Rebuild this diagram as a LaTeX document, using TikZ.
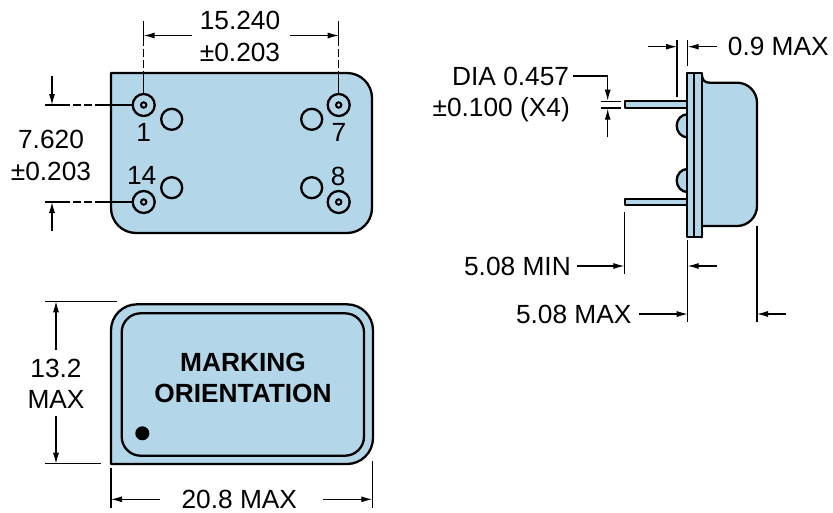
\documentclass[tikz,border=0pt]{standalone}
\usepackage{fontspec}
\setmainfont{Liberation Sans}
\usetikzlibrary{arrows.meta}
\definecolor{bodyblue}{HTML}{B3D6E8}
\tikzset{
  body/.style={draw,fill=bodyblue,line width=2.3pt,line join=round},
  pin/.style={circle,draw,line width=2.3pt,minimum size=22pt,inner sep=0pt},
  bump/.style={circle,draw,line width=2.3pt,minimum size=21pt,inner sep=0pt},
  dimarrow/.style={draw,line width=1.1pt,-{Latex[length=11pt,width=6pt]}},
  dimline/.style={draw,line width=1.1pt},
  centerline/.style={draw,line width=1.1pt,dash pattern=on 25pt off 3pt on 8pt off 3pt on 8pt off 3pt on 40pt}
}
\begin{document}
\begin{tikzpicture}[x=1pt,y=-1pt]
      \useasboundingbox (0,0) rectangle (833,512);

      % pin side
      \draw[body] (111,73) [rounded corners=25pt] -- (372,73) -- (372,233) -- (111,233) [sharp corners] -- cycle;

      \begin{scope}[every node/.style={pin}]
        \node (1)  at (143.7,105) {};
        \node (7)  at (338.7,105) {};
        \node (14) at (143.7,202) {};
        \node (8)  at (338.7,202) {};
      \end{scope}
      \begin{scope}[every node/.style={circle,draw,line width=2pt,minimum size=5.4pt,inner sep=0pt}]
        \node (c1)  at (143.7,105) {};
        \node (c7)  at (338.7,105) {};
        \node (c14) at (143.7,202) {};
        \node (c8)  at (338.7,202) {};
      \end{scope}
      \begin{scope}[every node/.style={bump}]
        \node (b1)  at (171.7,119.3) {};
        \node (b7)  at (311.7,119.3) {};
        \node (b14) at (171.7,187.7) {};
        \node (b8)  at (311.7,187.7) {};
      \end{scope}

      % bottom view
      \draw[body] (111,464) [rounded corners=26pt] -- (111,304.3) -- (373,304.3) -- (373,464) [sharp corners] -- (300,464) -- cycle;
      \draw[line width=2.3pt,rounded corners=19pt] (121.7,313.3) rectangle (364,455.7);
      \node[circle,fill,minimum size=14pt,inner sep=0pt] (dot) at (142.3,433.3) {};

      % side view
      \draw[body] (687.3,114.3) arc[start angle=90,end angle=270,x radius=10.6,y radius=-11.5] -- cycle;
      \draw[body] (687.3,169) arc[start angle=90,end angle=270,x radius=10.6,y radius=-11.5] -- cycle;
      \draw[body] (625.3,101.3) rectangle (687.3,108);
      \draw[body] (625.3,199.3) rectangle (687.3,205.3);
      \draw[body] (701.7,73.3) .. controls (702,80) and (704,82.7) .. (710,82.7) [rounded corners=20pt]
        -- (757,82.7) -- (757,226) -- (710,226) [sharp corners]
        .. controls (704,226) and (702,230) .. (701.7,237.3) -- cycle;
      \draw[body] (687.3,73.3) rectangle (701.7,237.3);
      \draw[line width=2.3pt] (694.3,73.3) -- (694.3,237.3);

      % free ends of the dimension lines
      \coordinate (t1)  at (143.7,21);
      \coordinate (t7)  at (338.7,21);
      \coordinate (l1)  at (45,105);
      \coordinate (l14) at (45,202);
      \coordinate (a1)  at (143.7,35.5);
      \coordinate (a1e) at (192,35.5);
      \coordinate (a7)  at (338.7,35.5);
      \coordinate (a7e) at (290,35.5);
      \coordinate (v1)  at (52,105);
      \coordinate (v1e) at (52,76);
      \coordinate (v14) at (52,202);
      \coordinate (v14e) at (52,231);

      \coordinate (h1a) at (45,301.3);
      \coordinate (h1b) at (117,301.3);
      \coordinate (h2a) at (45,463.7);
      \coordinate (h2b) at (101,463.7);
      \coordinate (u1)  at (56,301.3);
      \coordinate (u1e) at (56,350);
      \coordinate (u2)  at (56,463.7);
      \coordinate (u2e) at (56,416);
      \coordinate (w1a) at (111,468);
      \coordinate (w1b) at (111,508);
      \coordinate (w2a) at (372.3,461);
      \coordinate (w2b) at (372.3,508);
      \coordinate (w1)  at (111,499.3);
      \coordinate (w1e) at (160,499.3);
      \coordinate (w2)  at (372.3,499.3);
      \coordinate (w2e) at (323.3,499.3);

      \coordinate (m1a) at (677,40);
      \coordinate (m1b) at (677,96.7);
      \coordinate (m2a) at (687.7,40);
      \coordinate (m2b) at (687.7,65.7);
      \coordinate (m1)  at (677,46.7);
      \coordinate (m1e) at (648.3,46.7);
      \coordinate (m2)  at (687.7,46.7);
      \coordinate (m2e) at (716.7,46.7);
      \coordinate (d0)  at (572.7,76);
      \coordinate (d1)  at (607.7,76);
      \coordinate (d2)  at (607.7,100.6);
      \coordinate (d3)  at (607.7,137.3);
      \coordinate (d4)  at (607.7,108.7);
      \coordinate (s1a) at (601,101.3);
      \coordinate (s1b) at (620.7,101.3);
      \coordinate (s2a) at (601,108);
      \coordinate (s2b) at (620.7,108);
      \coordinate (n1a) at (624.3,211.7);
      \coordinate (n1b) at (624.3,274);
      \coordinate (n1)  at (624.3,266);
      \coordinate (n1e) at (576.7,266);
      \coordinate (n2a) at (687.7,240);
      \coordinate (n2b) at (687.7,321.7);
      \coordinate (n2)  at (687.7,266);
      \coordinate (n2e) at (716.7,266);
      \coordinate (x1)  at (687.7,314);
      \coordinate (x1e) at (639,314);
      \coordinate (x2a) at (757,225.7);
      \coordinate (x2b) at (757,321.7);
      \coordinate (x2)  at (757,314);
      \coordinate (x2e) at (786,314);

      \begin{scope}[every edge/.style={centerline}]
        \path (t1)  edge (1);
        \path (t7)  edge (7);
        \path (l1)  edge (1);
        \path (l14) edge (14);
      \end{scope}

      \begin{scope}[every edge/.style={dimline}]
        \path (h1a) edge (h1b);
        \path (h2a) edge (h2b);
        \path (w1a) edge (w1b);
        \path (w2a) edge (w2b);
        \path (m1a) edge (m1b);
        \path (m2a) edge (m2b);
        \path (d0)  edge (d1);
        \path (s1a) edge (s1b);
        \path (s2a) edge (s2b);
        \path (n1a) edge (n1b);
        \path (n2a) edge (n2b);
        \path (x2a) edge (x2b);
      \end{scope}

      \begin{scope}[every edge/.style={dimarrow}]
        \path (a1e) edge (a1);
        \path (a7e) edge (a7);
        \path (v1e) edge (v1);
        \path (v14e) edge (v14);
        \path (u1e) edge (u1);
        \path (u2e) edge (u2);
        \path (w1e) edge (w1);
        \path (w2e) edge (w2);
        \path (m1e) edge (m1);
        \path (m2e) edge (m2);
        \path (d1)  edge (d2);
        \path (d3)  edge (d4);
        \path (n1e) edge (n1);
        \path (n2e) edge (n2);
        \path (x1e) edge (x1);
        \path (x2e) edge (x2);
      \end{scope}

      \begin{scope}[every node/.style={inner sep=0pt,font=\fontsize{26.3}{30}\selectfont}]
        \node (w15)  at (240,20)   {15.240};
        \node (w15t) at (240,52)   {±0.203};
        \node (h7)   at (51,139)   {7.620};
        \node (h7t)  at (51,171)   {±0.203};
        \node (n1l)  at (143.7,132) {1};
        \node (n7l)  at (339,132)  {7};
        \node (n14l) at (141.7,175) {14};
        \node (n8l)  at (338.3,176) {8};
        \node (h13)  at (56,368)   {13.2};
        \node (h13m) at (56,399.3) {MAX};
        \node (w20)  at (239.3,499) {20.8 MAX};
        \node[anchor=west] (max09) at (727.7,46.7) {0.9 MAX};
        \node[anchor=east] (dia)   at (569.3,76.7) {DIA 0.457};
        \node[anchor=east] (diat)  at (570,109.3)  {±0.100 (X4)};
        \node[anchor=east] (min5)  at (571,266)    {5.08 MIN};
        \node[anchor=east] (max5)  at (631.7,314)  {5.08 MAX};
        \node[font=\fontsize{26.3}{30}\selectfont\bfseries] (mark) at (243,362.7) {MARKING};
        \node[font=\fontsize{26.3}{30}\selectfont\bfseries] (orient) at (243,393.3) {ORIENTATION};
      \end{scope}

    \end{tikzpicture}
\end{document}
